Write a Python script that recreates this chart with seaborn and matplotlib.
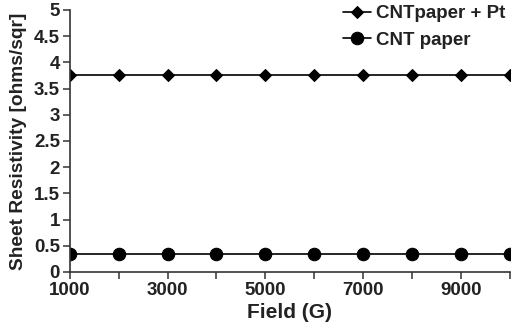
import matplotlib
matplotlib.use("Agg")
import matplotlib.pyplot as plt
import seaborn as sns
import pandas as pd
import numpy as np

field = [1000, 2000, 3000, 4000, 5000, 6000, 7000, 8000, 9000, 10000]
cnt_pt = [3.75, 3.75, 3.75, 3.75, 3.75, 3.75, 3.75, 3.75, 3.75, 3.75]
cnt = [0.35, 0.35, 0.35, 0.35, 0.35, 0.35, 0.35, 0.35, 0.35, 0.35]
series_names = ["CNTpaper + Pt", "CNT paper"]
xtick_labels = ["1000", "3000", "5000", "7000", "9000"]
ytick_labels = ["0", "0.5", "1", "1.5", "2", "2.5", "3", "3.5", "4", "4.5", "5"]

df = pd.DataFrame({
    "Field": field * 2,
    "R": cnt_pt + cnt,
    "Series": [series_names[0]] * len(field) + [series_names[1]] * len(field),
})

sns.set_style("white")
plt.rcParams["font.family"] = ["Liberation Sans", "DejaVu Sans"]
plt.rcParams["font.weight"] = "bold"

fig = plt.figure(figsize=(5.17, 3.30), dpi=100)
ax = fig.add_axes([0.135, 0.176, 0.851, 0.794])

sns.lineplot(data=df, x="Field", y="R", hue="Series", style="Series",
             markers={series_names[0]: "D", series_names[1]: "o"},
             dashes=False, palette=["black", "black"], ax=ax,
             linewidth=1.2, markersize=7, markeredgecolor="black")
for line in ax.lines:
    if line.get_marker() == "D":
        line.set_markersize(6.5)
    else:
        line.set_markersize(9)

ax.set_xlim(1000, 10000)
ax.set_ylim(0, 5)
ax.set_yticks(np.arange(0, 5.01, 0.5))
ax.set_yticklabels(ytick_labels)
ax.set_xticks(field)
ax.set_xticklabels([str(f) if str(f) in xtick_labels else "" for f in field])
ax.tick_params(axis="both", direction="out", length=5, width=1.1, color="#333333",
               labelsize=13.5, bottom=True, left=True, pad=2, labelcolor="#222222")
for lab in ax.get_xticklabels() + ax.get_yticklabels():
    lab.set_fontweight("bold")
ax.set_xlabel("Field (G)", fontsize=15, fontweight="bold", labelpad=3, color="#222222")
ax.set_ylabel("Sheet Resistivity [ohms/sqr]", fontsize=13.8, fontweight="bold",
              labelpad=5, color="#222222")
for s in ["top", "right"]:
    ax.spines[s].set_visible(False)
for s in ["left", "bottom"]:
    ax.spines[s].set_color("#333333")
    ax.spines[s].set_linewidth(1.2)

for line in ax.lines:
    line.set_markerfacecolor("black")
leg = ax.legend(loc="upper right", bbox_to_anchor=(0.995, 1.025), frameon=False,
                borderpad=0.1, borderaxespad=0,
                handlelength=1.5, handletextpad=0.3, labelspacing=0.5,
                prop={"weight": "bold", "size": 13.5})
for t in leg.get_texts():
    t.set_color("#222222")
fig.savefig("out.png", dpi=100)
